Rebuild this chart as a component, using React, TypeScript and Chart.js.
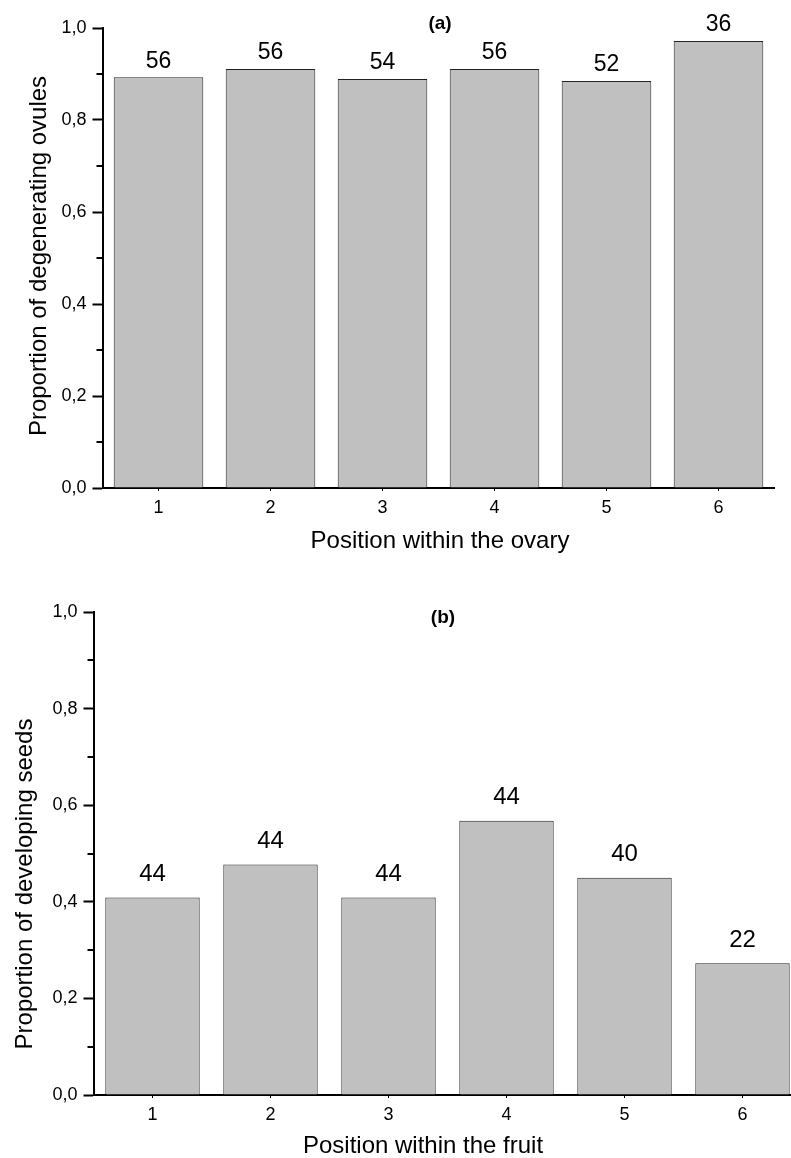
import React, { useEffect, useRef } from 'react';
import { Chart, registerables } from 'chart.js';

Chart.register(...registerables);
Chart.defaults.font.family = '"Liberation Sans", Arial, Helvetica, sans-serif';
Chart.defaults.color = '#000';

const positions = ['1', '2', '3', '4', '5', '6'];
const ovuleProportions = [0.893, 0.911, 0.889, 0.911, 0.885, 0.972];
const ovuleCounts = [56, 56, 54, 56, 52, 36];
const seedProportions = [0.409, 0.477, 0.409, 0.568, 0.45, 0.273];
const seedCounts = [44, 44, 44, 44, 40, 22];
const yMajorTicks = [0, 0.2, 0.4, 0.6, 0.8, 1.0];
const yMinorTicks = [0.1, 0.3, 0.5, 0.7, 0.9];

const FONT = '"Liberation Sans", Arial, Helvetica, sans-serif';

const decorPlugin = {
  id: 'decor',
  afterDraw(chart: any, _args: any, opts: any) {
    const ctx = chart.ctx;
    const yScale = chart.scales.y;
    const axisX = chart.chartArea.left;
    ctx.save();
    // minor ticks on the y axis
    ctx.strokeStyle = '#000';
    ctx.lineWidth = 2;
    (opts.minor || []).forEach((v: number) => {
      const py = Math.round(yScale.getPixelForValue(v));
      ctx.beginPath();
      ctx.moveTo(axisX - 6, py);
      ctx.lineTo(axisX, py);
      ctx.stroke();
    });
    // count labels above bars
    const meta = chart.getDatasetMeta(0);
    ctx.fillStyle = '#000';
    ctx.font = opts.labelFont;
    ctx.textAlign = 'center';
    ctx.textBaseline = 'middle';
    meta.data.forEach((bar: any, i: number) => {
      ctx.fillText(String(opts.counts[i]), bar.x, bar.y - opts.labelGap);
    });
    // titles
    (opts.texts || []).forEach((t: any) => {
      ctx.save();
      ctx.font = t.font;
      ctx.translate(t.x, t.y);
      if (t.rot) ctx.rotate(t.rot);
      ctx.textAlign = 'center';
      ctx.textBaseline = 'middle';
      ctx.fillText(t.text, 0, 0);
      ctx.restore();
    });
    ctx.restore();
  },
};

function buildConfig(p: any) {
  return {
    type: 'bar',
    data: {
      labels: positions,
      datasets: [
        {
          data: p.values,
          backgroundColor: '#c0c0c0',
          borderColor: '#222',
          borderWidth: 1,
          categoryPercentage: 0.8,
          barPercentage: 1,
        },
      ],
    },
    options: {
      responsive: false,
      animation: false,
      devicePixelRatio: 1,
      layout: { padding: { top: p.padTop, right: p.padRight, left: 0, bottom: 0 } },
      plugins: {
        legend: { display: false },
        tooltip: { enabled: false },
        decor: {
          minor: yMinorTicks,
          counts: p.counts,
          labelFont: p.labelFont,
          labelGap: p.labelGap,
          texts: p.texts,
        },
      },
      scales: {
        x: {
          offset: true,
          grid: { offset: false, drawOnChartArea: false, tickLength: 3, tickWidth: 1, tickColor: '#000' },
          border: { color: '#000', width: 2 },
          ticks: { color: '#000', font: { size: 18 }, padding: 6, maxRotation: 0 },
          afterFit: (s: any) => {
            s.height = p.xHeight;
          },
        },
        y: {
          min: 0,
          max: 1,
          afterBuildTicks: (s: any) => {
            s.ticks = yMajorTicks.map((v) => ({ value: v }));
          },
          grid: { drawOnChartArea: false, tickLength: 10, tickWidth: 2, tickColor: '#000' },
          border: { color: '#000', width: 2 },
          ticks: {
            color: '#000',
            font: { size: 18 },
            padding: 6,
            callback: (v: any) => Number(v).toFixed(1).replace('.', ','),
          },
          afterFit: (s: any) => {
            s.width = p.yWidth;
          },
        },
      },
    },
    plugins: [decorPlugin],
  };
}

function BarPanel({ cfg, width, height, top }: any) {
  const ref = useRef<HTMLCanvasElement | null>(null);
  useEffect(() => {
    const chart = new Chart(ref.current as HTMLCanvasElement, buildConfig(cfg) as any);
    return () => chart.destroy();
  }, []);
  return (
    <canvas
      ref={ref}
      width={width}
      height={height}
      style={{ position: 'absolute', left: 0, top, width, height, display: 'block' }}
    />
  );
}

const panelA = {
  values: ovuleProportions,
  counts: ovuleCounts,
  padTop: 28,
  padRight: 16.5,
  yWidth: 102.5,
  xHeight: 87,
  labelFont: `23px ${FONT}`,
  labelGap: 16,
  texts: [
    { text: '(a)', x: 440, y: 24, font: `bold 19px ${FONT}` },
    { text: 'Position within the ovary', x: 440, y: 541.7, font: `24px ${FONT}` },
    { text: 'Proportion of degenerating ovules', x: 39, y: 256, rot: -Math.PI / 2, font: `24px ${FONT}` },
  ],
};

const panelB = {
  values: seedProportions,
  counts: seedCounts,
  padTop: 37,
  padRight: 28.5,
  yWidth: 93.5,
  xHeight: 63,
  labelFont: `24px ${FONT}`,
  labelGap: 23,
  texts: [
    { text: '(b)', x: 443, y: 42.5, font: `bold 19px ${FONT}` },
    { text: 'Position within the fruit', x: 423, y: 571.7, font: `24px ${FONT}` },
    { text: 'Proportion of developing seeds', x: 25, y: 309, rot: -Math.PI / 2, font: `24px ${FONT}` },
  ],
};

export default function App() {
  return (
    <div
      style={{
        position: 'absolute',
        left: 0,
        top: 0,
        width: 791,
        height: 1158,
        overflow: 'hidden',
        background: '#fff',
      }}
    >
      <BarPanel cfg={panelA} width={791} height={575} top={0} />
      <BarPanel cfg={panelB} width={830} height={583} top={575} />
    </div>
  );
}
